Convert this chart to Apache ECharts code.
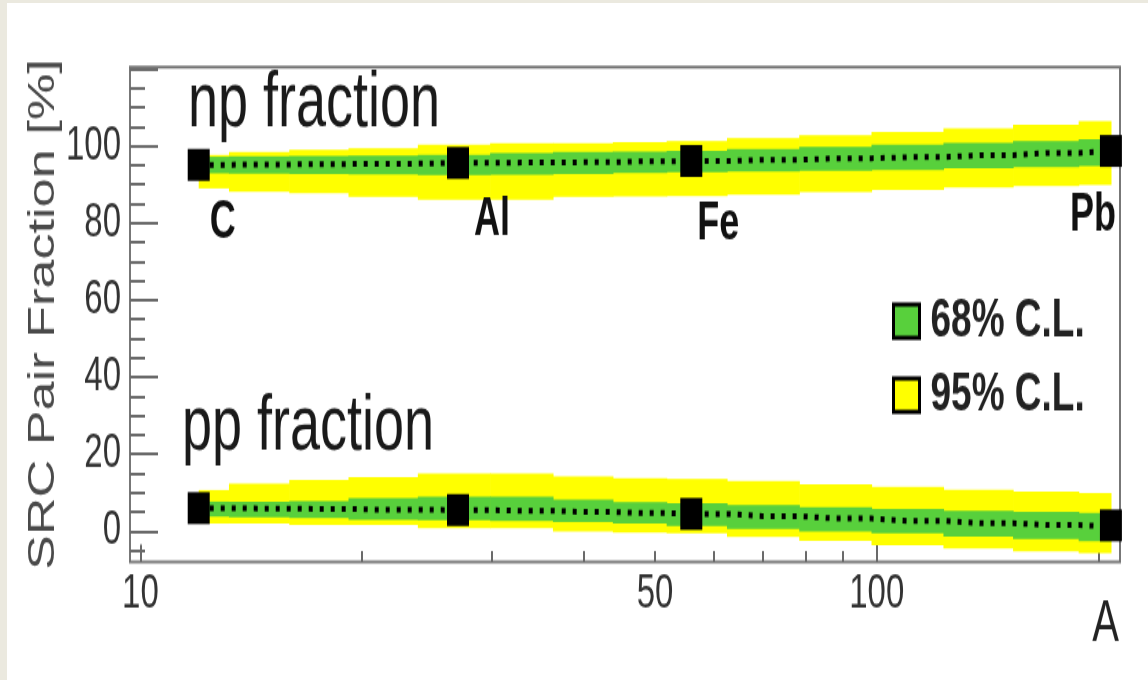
<!DOCTYPE html>
<html>
<head>
<meta charset="utf-8">
<script src="https://cdn.jsdelivr.net/npm/echarts@6/dist/echarts.min.js"></script>
<style>
  html, body { margin:0; padding:0; width:1148px; height:680px; overflow:hidden; background:#ebe9df; }
  #wrap { position:absolute; left:7px; top:3px; width:1141px; height:677px; background:#ffffff; overflow:hidden; }
  #chart { position:absolute; left:-7px; top:-3px; width:1148px; height:469px; transform:scaleY(1.45); transform-origin:0 0; }
</style>
</head>
<body>
<div id="wrap"><div id="chart"></div></div>
<script>
// ---------- data ----------
const nuclei = ['C', 'Al', 'Fe', 'Pb'];
const massNumbers = [12, 27, 56, 208];
const npFraction = [95.1, 95.6, 96.1, 98.7];
const ppFraction = [6.0, 5.5, 4.5, 1.5];

// band sampling points (mass number A)
const bandA = [12, 14.5, 17.5, 21, 27, 33, 40, 48, 56, 70, 88, 110, 138, 170, 208];

const npCentral = [95.1, 95.2, 95.3, 95.4, 95.6, 95.7, 95.8, 96.0, 96.1, 96.4, 96.8, 97.1, 97.6, 98.2, 98.7];
const np68High  = [97.2, 97.3, 97.4, 97.5, 97.7, 98.2, 98.5, 98.6, 98.7, 99.2, 99.8, 100.3, 100.8, 101.3, 101.8];
const np68Low   = [92.9, 92.8, 92.7, 92.6, 92.4, 92.5, 92.7, 93.0, 93.2, 93.4, 93.6, 93.8, 94.2, 94.5, 94.8];
const np95High  = [97.7, 98.5, 99.0, 99.4, 100.3, 100.7, 100.7, 101.0, 101.3, 102.0, 102.8, 103.6, 104.6, 105.5, 106.5];
const np95Low   = [89.0, 88.1, 87.7, 86.8, 86.0, 86.0, 86.8, 86.9, 87.0, 87.4, 88.0, 88.6, 89.2, 89.6, 89.9];

const ppCentral = [6.0, 5.9, 5.8, 5.6, 5.5, 5.3, 5.0, 4.7, 4.5, 3.9, 3.3, 2.7, 2.1, 1.6, 1.2];
const pp68High  = [7.7, 7.7, 7.8, 8.6, 9.0, 9.0, 8.2, 7.6, 7.3, 6.8, 6.2, 5.8, 5.3, 5.0, 4.7];
const pp68Low   = [3.8, 3.6, 3.4, 3.0, 2.9, 2.7, 2.4, 2.0, 1.4, 0.6, -0.1, -0.5, -1.4, -2.0, -2.6];
const pp95High  = [10.7, 12.4, 13.3, 14.1, 15.0, 15.0, 14.2, 13.8, 13.6, 13.0, 12.2, 11.5, 10.8, 10.3, 9.9];
const pp95Low   = [2.0, 2.0, 1.6, 1.6, 0.8, 0.8, -0.1, -0.3, -0.5, -1.5, -2.5, -3.6, -4.5, -5.2, -5.7];

// axis ticks / labels (A values)
const xMajorTicks = [10, 100];
const xMinorTicks = [20, 30, 40, 50, 60, 70, 80, 90, 200];
const xLabelValues = [10, 50, 100];
const yMajorTicks = [0, 20, 40, 60, 80, 100, 120];
const yLabelValues = [0, 20, 40, 60, 80, 100];
const yMinorTicks = [-5, 0, 5, 10, 15, 20, 25, 30, 35, 40, 45, 50, 55, 60, 65, 70, 75, 80, 85, 90, 95, 100, 105, 110, 115, 120];

// ---------- layout / style ----------
const FONT = "'Liberation Sans', Arial, Helvetica, sans-serif";
const X_MIN = 9.68, X_MAX = 214;          // A range of the logarithmic axis
const Y_MIN = -8, Y_MAX = 120.5;
const GREEN = '#58d03c', YELLOW = '#ffff00';
const AXIS_COLOR = '#6a6a6a';
const labelOffsets = [[24, 40], [34, 40], [27, 44], [-18, 45]];

// the x axis is logarithmic in A: the library's value axis works on log10(A)
const lg = Math.log10;

// step-like confidence band drawn as adjacent rectangles (pixel positions from the axes)
function bandSeries(lo, hi, name, color) {
  return {
    type: 'custom', name: name, coordinateSystem: 'cartesian2d', silent: true, z: 2,
    itemStyle: { color: color },
    encode: { x: 0, y: [1, 2] },
    data: bandA.map((a, i) => [lg(a), lo[i], hi[i]]),
    renderItem: function (params, api) {
      const i = params.dataIndexInside, n = params.dataInsideLength;
      const x = api.coord([api.value(0), api.value(1)])[0];
      const xPrev = i > 0 ? api.coord([api.value(0, i - 1), 0])[0] : x;
      const xNext = i < n - 1 ? api.coord([api.value(0, i + 1), 0])[0] : x;
      const x0 = (xPrev + x) / 2, x1 = (x + xNext) / 2;
      const yLo = api.coord([api.value(0), api.value(1)])[1];
      const yHi = api.coord([api.value(0), api.value(2)])[1];
      return { type: 'rect', shape: { x: x0, y: yHi, width: x1 - x0 + 0.6, height: yLo - yHi },
               style: { fill: api.visual('color') } };
    }
  };
}
function centralLine(values) {
  return { type: 'line', data: bandA.map((a, i) => [lg(a), values[i]]), step: 'middle', symbol: 'none',
    lineStyle: { color: '#000', width: 4, type: [4, 7] }, silent: true, z: 3 };
}

const series = [
  bandSeries(np95Low, np95High, '95% C.L.', YELLOW),
  bandSeries(pp95Low, pp95High, '95% C.L.', YELLOW),
  bandSeries(np68Low, np68High, '68% C.L.', GREEN),
  bandSeries(pp68Low, pp68High, '68% C.L.', GREEN),
  centralLine(npCentral),
  centralLine(ppCentral),
  { type: 'scatter', symbol: 'rect', symbolSize: 22, itemStyle: { color: '#000', opacity: 1 }, z: 4, silent: true,
    data: nuclei.map((n, i) => ({ name: n, value: [lg(massNumbers[i]), npFraction[i]], label: { offset: labelOffsets[i] } })),
    label: { show: true, position: 'inside', formatter: '{b}', fontFamily: FONT, fontWeight: 'bold', fontSize: 36, color: '#111' } },
  { type: 'scatter', symbol: 'rect', symbolSize: 22, itemStyle: { color: '#000', opacity: 1 }, z: 4, silent: true,
    data: nuclei.map((n, i) => ({ name: n, value: [lg(massNumbers[i]), ppFraction[i]] })) }
];

const tickLine = { color: AXIS_COLOR, width: 2 };
const xBase = { type: 'value', min: lg(X_MIN), max: lg(X_MAX), position: 'bottom',
                axisLine: { show: false, onZero: false }, splitLine: { show: false } };
const option = {
  animation: false,
  backgroundColor: 'transparent',
  grid: { left: 130, right: 28, top: 46.2, bottom: 81.4, show: true, borderColor: '#777', borderWidth: 2,
          backgroundColor: 'transparent', containLabel: false, outerBoundsMode: 'none' },
  legend: {
    data: ['68% C.L.', '95% C.L.'], orient: 'vertical', left: 892, top: 203, padding: 0, itemGap: 14,
    itemWidth: 26, itemHeight: 23, icon: 'rect', selectedMode: false,
    itemStyle: { borderColor: '#000', borderWidth: 3 },
    textStyle: { fontFamily: FONT, fontWeight: 'bold', fontSize: 37, color: '#222', padding: [0, 0, 0, 6] }
  },
  xAxis: [
    Object.assign({}, xBase, {
      axisTick: { show: true, inside: true, length: 7.5, lineStyle: tickLine, customValues: xMinorTicks.map(lg) },
      axisLabel: { show: false } }),
    Object.assign({}, xBase, {
      axisTick: { show: true, inside: true, length: 12, lineStyle: tickLine, customValues: xMajorTicks.map(lg) },
      axisLabel: { customValues: xLabelValues.map(lg), fontFamily: FONT, fontSize: 33, color: '#333', margin: 6,
                   formatter: v => String(Math.round(Math.pow(10, v))) } })
  ],
  yAxis: [
    { type: 'value', min: Y_MIN, max: Y_MAX, position: 'left',
      axisLine: { show: false, onZero: false }, splitLine: { show: false },
      axisTick: { inside: true, length: 28, lineStyle: tickLine, customValues: yMajorTicks },
      axisLabel: { customValues: yLabelValues, fontFamily: FONT, fontSize: 33, color: '#333', margin: 9 },
      name: 'SRC Pair Fraction [%]', nameLocation: 'middle', nameGap: 68, nameMoveOverlap: false,
      nameTextStyle: { fontFamily: FONT, fontSize: 36, color: '#4a4a4a' } },
    { type: 'value', min: Y_MIN, max: Y_MAX, position: 'left',
      axisLine: { show: false, onZero: false }, splitLine: { show: false },
      axisTick: { inside: true, length: 15, lineStyle: tickLine, customValues: yMinorTicks },
      axisLabel: { show: false } }
  ],
  graphic: [
    { type: 'text', left: 188, top: 45, silent: true,
      style: { text: 'np fraction', fontFamily: FONT, fontSize: 54, fill: '#1a1a1a' } },
    { type: 'text', left: 182, top: 268, silent: true,
      style: { text: 'pp fraction', fontFamily: FONT, fontSize: 54, fill: '#1a1a1a' } },
    { type: 'text', x: 1119, y: 431, silent: true,
      style: { text: 'A', fontFamily: FONT, fontSize: 40, fill: '#222', align: 'right', verticalAlign: 'middle' } }
  ],
  series: series
};

const chart = echarts.init(document.getElementById('chart'), null, { renderer: 'canvas' });
chart.setOption(option);
</script>
</body>
</html>
